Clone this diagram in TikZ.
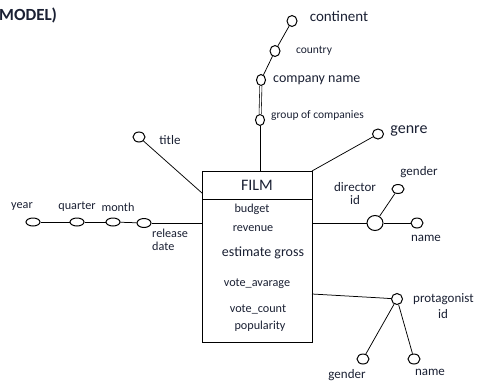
\documentclass[tikz,border=0pt]{standalone}
\usepackage{fontspec}
\setmainfont{Carlito}
\usetikzlibrary{shapes.geometric}
\definecolor{txt}{HTML}{1A2033}
\tikzset{
  attr/.style={ellipse, draw, line width=1pt, inner sep=0pt, minimum width=12pt, minimum height=9pt},
  lbl/.style={inner sep=0pt, text=txt, font=\fontsize{13}{14}\selectfont},
  small/.style={inner sep=0pt, text=txt, font=\fontsize{12.2}{13}\selectfont},
  conn/.style={draw, line width=0.75pt}
}
\begin{document}
\begin{tikzpicture}[x=1pt,y=-1pt]
\useasboundingbox (0,0) rectangle (478,381);
% title fragment
\node[inner sep=0pt, anchor=west, text=txt, font=\fontsize{17}{18}\selectfont\bfseries] (model) at (-1,15) {MODEL)};
% film entity
\node[draw, line width=0.8pt, minimum width=110pt, minimum height=171pt, inner sep=0pt, anchor=north west] (film) at (202,171) {};
\coordinate (sepL) at (202,199);
\coordinate (sepR) at (312,199);
\draw[line width=0.8pt] (sepL) -- (sepR);
\node[inner sep=0pt, text=txt, font=\fontsize{16}{17}\selectfont] (filmlbl) at (257,185) {FILM};
\node[small] (budget) at (252,209) {budget};
\node[small] (revenue) at (253,229) {revenue};
\node[inner sep=0pt, text=txt, font=\fontsize{14}{15}\selectfont] (gross) at (263,253) {estimate gross};
\node[small] (vavg) at (257,284) {vote\_avarage};
\node[small] (vcount) at (258,309) {vote\_count};
\node[small] (pop) at (260,326) {popularity};
% company branch
\node[attr, minimum width=9pt, minimum height=11pt] (group) at (260,120) {};
\node[attr, minimum width=9pt, minimum height=11pt] (comp) at (261,80) {};
\node[attr, minimum width=10pt, minimum height=11pt] (country) at (275,51) {};
\node[attr, minimum width=10pt, minimum height=11pt] (cont) at (292,21) {};
\coordinate (filmtop) at (260,171);
\draw[conn] (filmtop) -- (group);
\draw[conn, double, double distance=1.6pt, line width=0.6pt] (group) -- (comp);
\draw[conn] (comp) -- (country);
\draw[conn] (country) -- (cont);
\node[lbl, font=\fontsize{15}{16}\selectfont] (contl) at (339,16) {continent};
\node[small, font=\fontsize{11.5}{12}\selectfont] (countryl) at (314,51) {country};
\node[lbl, font=\fontsize{14}{15}\selectfont, anchor=west] (compl) at (273,80) {company name};
\node[small, font=\fontsize{11.5}{12}\selectfont, anchor=west] (groupl) at (271,116) {group of companies};
% genre
\node[attr, minimum width=11pt, minimum height=10pt] (genre) at (378,134) {};
\coordinate (filmNE) at (312,171);
\draw[conn] (filmNE) -- (genre);
\node[lbl, font=\fontsize{16}{17}\selectfont] (genrel) at (409,131) {genre};
% title
\node[attr, minimum width=12pt, minimum height=10pt] (title) at (139,137) {};
\coordinate (filmtitle) at (202,193);
\draw[conn] (title) -- (filmtitle);
\node[lbl] (titlel) at (170,140) {title};
% release date branch
\node[attr, minimum width=14pt, minimum height=8pt] (year) at (33,222) {};
\node[attr, minimum width=14pt, minimum height=8pt] (quarter) at (77,222) {};
\node[attr, minimum width=14pt, minimum height=8pt] (month) at (113,222) {};
\node[attr, minimum width=14pt, minimum height=9pt] (rdate) at (144,223) {};
\coordinate (filmrd) at (202,223);
\draw[conn] (year) -- (quarter);
\draw[conn] (quarter) -- (month);
\draw[conn] (month) -- (rdate);
\draw[conn] (rdate) -- (filmrd);
\node[small] (yearl) at (22,207) {year};
\node[small] (quarterl) at (77,207) {quarter};
\node[small] (monthl) at (118,207) {month};
\node[small, anchor=west, align=left] (rdatel) at (152,240) {release\\[0pt]date};
% director
\node[attr, minimum width=16pt, minimum height=15pt] (dir) at (375,223) {};
\node[attr, minimum width=12pt, minimum height=9pt] (dgender) at (398,189) {};
\node[attr, minimum width=12pt, minimum height=10pt] (dname) at (417,223) {};
\coordinate (filmdir) at (312,223);
\draw[conn] (filmdir) -- (dir);
\draw[conn] (dir) -- (dgender);
\draw[conn] (dir) -- (dname);
\node[lbl, align=center] (dirl) at (355,194) {director\\[-1pt]id};
\node[lbl] (dgenderl) at (419,172) {gender};
\node[lbl] (dnamel) at (426,238) {name};
% protagonist
\node[attr, minimum width=11pt, minimum height=11pt] (prot) at (397,299) {};
\node[attr, minimum width=12pt, minimum height=10pt] (pgender) at (363,359) {};
\node[attr, minimum width=12pt, minimum height=10pt] (pname) at (414,359) {};
\coordinate (filmprot) at (312,294);
\coordinate (protbend) at (382,298);
\draw[conn] (filmprot) -- (protbend) -- (prot);
\draw[conn] (prot) -- (pgender);
\draw[conn] (prot) -- (pname);
\node[lbl, anchor=west] (protl) at (413,299) {protagonist};
\node[lbl] (protidl) at (443,314) {id};
\node[lbl] (pgenderl) at (347,375) {gender};
\node[lbl] (pnamel) at (430,372) {name};
\end{tikzpicture}
\end{document}
